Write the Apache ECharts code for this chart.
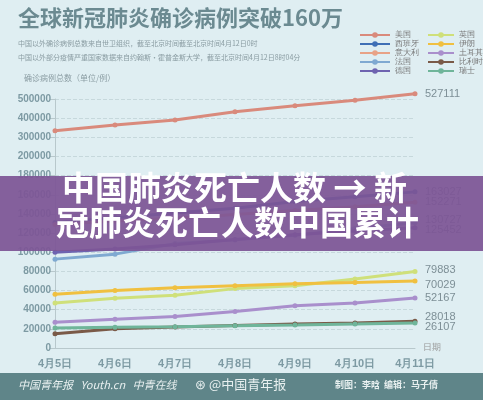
<!DOCTYPE html><html><head><meta charset="utf-8">
<script src="https://cdn.jsdelivr.net/npm/echarts@6/dist/echarts.min.js"></script>
<style>body{margin:0}#c{width:483px;height:400px}</style></head><body><div id="c"></div><script>
const dates=['4月5日','4月6日','4月7日','4月8日','4月9日','4月10日','4月11日'];
const yTicks=['0','20000','40000','60000','80000','100000','120000','140000','160000','180000','200000','300000','400000','500000'];
const names=['美国','西班牙','意大利','法国','德国','英国','伊朗','土耳其','比利时','瑞士'];
const colors=['#d98a7c','#3f6fb5','#e8a286','#7fa9d1','#6e63b0','#cfe07a','#f0c040','#a98fcc','#7a5a48','#6fb59a'];
const usa=[334000,364000,390000,434000,465000,494000,527111];
const spain=[131000,136000,141000,146000,153000,158000,163027];
const italy=[128900,132500,135600,139400,143600,147600,152271];
const france=[92800,98000,109000,112900,117700,124900,130727];
const germany=[100100,103400,107700,113300,118200,122200,125452];
const uk=[47000,52000,55000,62000,65000,72000,79883];
const iran=[56000,60000,63000,65000,67000,68500,70029];
const turkey=[27000,30000,33000,38000,44000,47000,52167];
const belgium=[15000,20000,22000,23500,25000,26000,28018];
const swiss=[21000,21600,22200,23300,24000,25000,26107];
const all=[usa,spain,italy,france,germany,uk,iran,turkey,belgium,swiss];
const tf=v=>v<=200000?v:200000+(v-200000)/5;
const series=all.map((d,i)=>({name:names[i],type:'line',data:d.map(tf),clip:false,symbol:'circle',symbolSize:5,
 lineStyle:{width:3,color:colors[i]},itemStyle:{color:colors[i]},z:i===0?3:2,
 endLabel:{show:true,formatter:()=>String(d[6]),color:'#7d8f96',fontSize:11,offset:[2,[0,0,0,-3,2,-2,4,0,-4,4][i]]}}));
const lt={fontSize:8,color:'#777'};
const c=echarts.init(document.getElementById('c'));
c.setOption({backgroundColor:'#dfeef2',animation:false,
 grid:{left:55,right:68,top:99,bottom:52},
 legend:[{data:names.slice(0,5),left:354,top:26,orient:'vertical',itemGap:1,itemWidth:30,itemHeight:7,textStyle:lt},
  {data:names.slice(5),left:422,top:26,orient:'vertical',itemGap:1,itemWidth:26,itemHeight:7,textStyle:lt}],
 xAxis:{type:'category',data:dates,boundaryGap:false,name:'日期',nameGap:8,nameTextStyle:{color:'#999',fontSize:9},
  axisLine:{lineStyle:{color:'#b8c8cc'}},axisTick:{show:false},axisLabel:{color:'#7d9aa3',fontWeight:'bold',fontSize:11,margin:10},splitLine:{show:false}},
 yAxis:{type:'value',min:0,max:260000,interval:20000,
  axisLine:{show:true,lineStyle:{color:'#b8c8cc'}},axisTick:{show:true},
  axisLabel:{color:'#7d9aa3',fontWeight:'bold',fontSize:10,margin:4,formatter:(v)=>yTicks[Math.round(v/20000)]},
  splitLine:{lineStyle:{type:'dashed',color:'#c6d8dc'}}},
 series,
 graphic:[
  {type:'text',left:18,top:7,style:{text:'全球新冠肺炎确诊病例突破160万',font:'bold 22px "Noto Sans CJK SC"',fill:'#6b8a91'}},
  {type:'text',left:18,top:40,style:{text:'中国以外确诊病例总数来自世卫组织，截至北京时间截至北京时间4月12日0时',font:'7px "Noto Sans CJK SC"',fill:'#8a9ca2'}},
  {type:'text',left:18,top:54,style:{text:'中国以外部分疫情严重国家数据来自约翰斯·霍普金斯大学，截至北京时间4月12日8时04分',font:'7px "Noto Sans CJK SC"',fill:'#8a9ca2'}},
  {type:'text',left:24,top:74,style:{text:'确诊病例总数（单位/例）',font:'8px "Noto Sans CJK SC"',fill:'#8a9ca2'}},
  {type:'rect',shape:{x:0,y:176,width:483,height:75},style:{fill:'rgba(125,85,150,0.93)'},z:50},
  {type:'text',left:62,top:171,z:51,style:{text:'中国肺炎死亡人数 → 新',font:'bold 33px "Noto Sans CJK SC"',fill:'#fff'}},
  {type:'text',left:56,top:206,z:51,style:{text:'冠肺炎死亡人数中国累计',font:'bold 33px "Noto Sans CJK SC"',fill:'#fff'}},
  {type:'rect',shape:{x:0,y:373,width:483,height:27},style:{fill:'#5f8589'},z:50},
  {type:'text',left:18,top:379,z:51,style:{text:'中国青年报   Youth.cn   中青在线',font:'italic 11px "Noto Sans CJK SC"',fill:'#e8f0f0'}},
  {type:'text',left:195,top:378,z:51,style:{text:'⊛ @中国青年报',font:'13px "Noto Sans CJK SC"',fill:'#e8f0f0'}},
  {type:'text',left:335,top:380,z:51,style:{text:'制图：李晗  编辑：马子倩',font:'bold 9px "Noto Sans CJK SC"',fill:'#e8f0f0'}}
 ]});
</script></body></html>
